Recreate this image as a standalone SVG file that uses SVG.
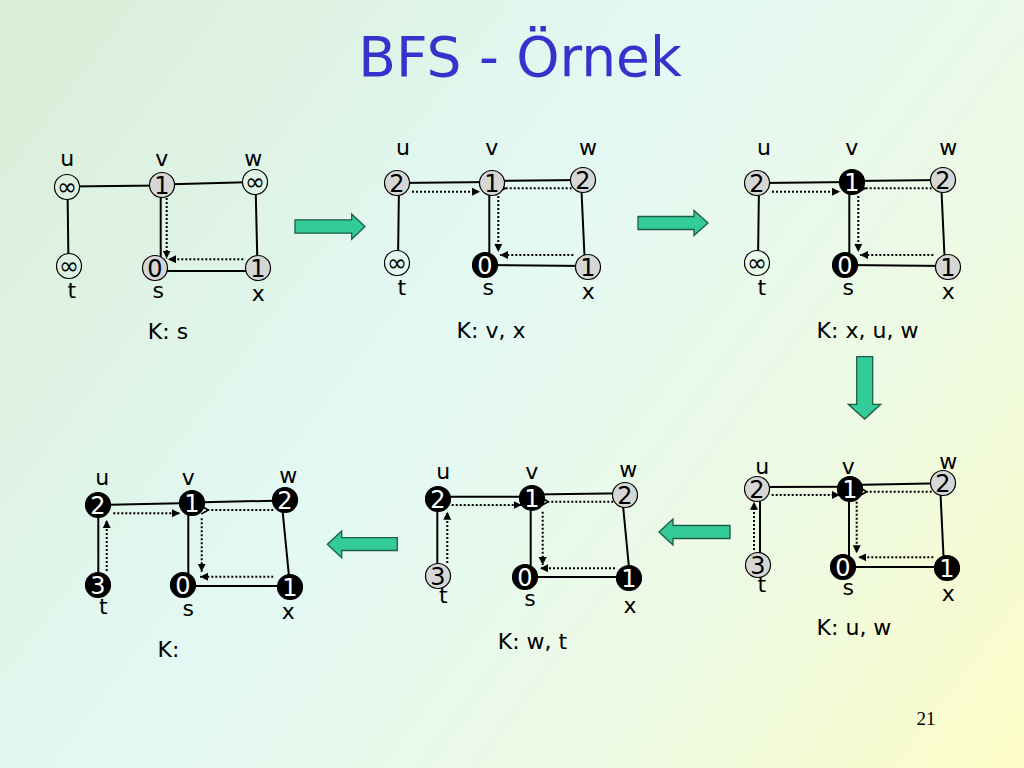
<svg xmlns="http://www.w3.org/2000/svg" width="1024" height="768" viewBox="0 0 1024 768">
<defs>
<linearGradient id="bg" gradientUnits="userSpaceOnUse" x1="0" y1="0" x2="1024" y2="768">
<stop offset="0" stop-color="#d9eed6"/>
<stop offset="0.45" stop-color="#e4f9f4"/>
<stop offset="0.75" stop-color="#eefae2"/>
<stop offset="1" stop-color="#fcfcc6"/>
</linearGradient>
<marker id="ah" markerUnits="userSpaceOnUse" markerWidth="9" markerHeight="9" refX="8" refY="4" orient="auto">
<path d="M0,0 L8,4 L0,8 Z" fill="#000"/>
</marker>
<marker id="ch" markerUnits="userSpaceOnUse" markerWidth="10" markerHeight="10" refX="1" refY="4.5" orient="auto">
<path d="M8,0.5 L1,4.5 L8,8.5" fill="none" stroke="#000" stroke-width="1.6"/>
</marker>
<style>
.n{stroke:#000;stroke-width:1.2}
.g{fill:#d6d6d6}
.b{fill:#000}
.e{fill:url(#bg)}
.num{font-family:"DejaVu Sans",sans-serif;font-size:24px;text-anchor:middle;fill:#000}
.nw{fill:#fff}
.lbl{font-family:"DejaVu Sans",sans-serif;font-size:22px;text-anchor:middle;fill:#000}
.k{font-family:"DejaVu Sans",sans-serif;font-size:22px;text-anchor:middle;fill:#000}
.ed{stroke:#000;stroke-width:2;fill:none}
.dt{stroke:#000;stroke-width:2;stroke-dasharray:2 2;fill:none}
.fa{marker-end:url(#ah)}
.ca{marker-end:url(#ch)}
.blk{fill:#33cc99;stroke:#1f5c45;stroke-width:1.3}
</style>
</defs>
<rect width="1024" height="768" fill="url(#bg)"/>
<text x="520" y="76" font-family="DejaVu Sans, sans-serif" font-size="55" fill="#3434cc" text-anchor="middle">BFS - Örnek</text>
<text x="926" y="725" font-family="Liberation Serif, serif" font-size="19" fill="#000" text-anchor="middle">21</text>

<g id="block-arrows">
<path class="blk" d="M295,219.8 H351.7 V214 L365,226.5 L351.7,239.3 V233.2 H295 Z"/>
<path class="blk" d="M638,216.5 H694 V210.5 L708,223 L694,235.5 V229.5 H638 Z"/>
<path class="blk" d="M856.7,356.7 H872.7 V404.3 H880.7 L864.7,419 L848.3,404.3 H856.7 Z"/>
<path class="blk" d="M397.3,537.7 H341.7 V531 L327.3,544.3 L341.7,557.7 V550.5 H397.3 Z"/>
<path class="blk" d="M730,525.5 H673 V519 L659,532 L673,545 V538.5 H730 Z"/>
</g>

<!-- Panel 1 -->
<g id="p1-edges">
<line class="ed" x1="67" y1="186.5" x2="162" y2="185.5"/>
<line class="ed" x1="162" y1="184.5" x2="255" y2="182"/>
<line class="ed" x1="67.5" y1="187" x2="68.5" y2="266"/>
<line class="ed" x1="160.7" y1="185" x2="160.7" y2="268"/>
<line class="ed" x1="255.5" y1="182" x2="257.5" y2="268"/>
<line class="ed" x1="155" y1="271" x2="258" y2="271"/>
<line class="dt fa" x1="166.7" y1="198" x2="166.7" y2="258.5"/>
<line class="dt fa" x1="243.3" y1="259.3" x2="168" y2="259.3"/>
</g>
<g id="p1-u"><circle class="n e" cx="67" cy="187" r="12.5"/><text class="num" x="67" y="195">∞</text><text class="lbl" x="67.3" y="166">u</text></g>
<g id="p1-v"><circle class="n g" cx="162" cy="185" r="12.5"/><text class="num" x="162" y="194">1</text><text class="lbl" x="161.7" y="166">v</text></g>
<g id="p1-w"><circle class="n e" cx="255" cy="182" r="12.5"/><text class="num" x="255" y="190">∞</text><text class="lbl" x="253.3" y="166">w</text></g>
<g id="p1-t"><circle class="n e" cx="69" cy="266" r="12.5"/><text class="num" x="69" y="274">∞</text><text class="lbl" x="71.7" y="298">t</text></g>
<g id="p1-s"><circle class="n g" cx="155" cy="268" r="12.5"/><text class="num" x="155" y="277">0</text><text class="lbl" x="158.3" y="298">s</text></g>
<g id="p1-x"><circle class="n g" cx="258" cy="268" r="12.5"/><text class="num" x="258" y="277">1</text><text class="lbl" x="258.3" y="301">x</text></g>
<text class="k" x="168" y="339">K: s</text>

<!-- Panel 2 -->
<g id="p2-edges">
<line class="ed" x1="397" y1="183" x2="492" y2="182"/>
<line class="ed" x1="492" y1="181" x2="583" y2="180"/>
<line class="ed" x1="399" y1="183" x2="398" y2="263"/>
<line class="ed" x1="489.3" y1="183" x2="489.3" y2="265"/>
<line class="ed" x1="581" y1="180" x2="585" y2="267"/>
<line class="ed" x1="485" y1="265" x2="588" y2="266"/>
<line class="dt fa" x1="412" y1="191.7" x2="480" y2="191.7"/>
<line class="dt ca" x1="571.7" y1="188.3" x2="505" y2="188.3"/>
<line class="dt fa" x1="498.3" y1="196" x2="498.3" y2="252"/>
<line class="dt fa" x1="573.3" y1="255" x2="500" y2="255"/>
</g>
<g id="p2-u"><circle class="n g" cx="397" cy="183" r="12.5"/><text class="num" x="397" y="192">2</text><text class="lbl" x="403" y="155">u</text></g>
<g id="p2-v"><circle class="n g" cx="492" cy="183" r="12.5"/><text class="num" x="492" y="192">1</text><text class="lbl" x="491.7" y="155">v</text></g>
<g id="p2-w"><circle class="n g" cx="583" cy="180" r="12.5"/><text class="num" x="583" y="189">2</text><text class="lbl" x="588" y="155">w</text></g>
<g id="p2-t"><circle class="n e" cx="397" cy="263" r="12.5"/><text class="num" x="397" y="271">∞</text><text class="lbl" x="401.7" y="295">t</text></g>
<g id="p2-s"><circle class="n b" cx="485" cy="265" r="12.5"/><text class="num nw" x="485" y="274">0</text><text class="lbl" x="488.3" y="295">s</text></g>
<g id="p2-x"><circle class="n g" cx="588" cy="267" r="12.5"/><text class="num" x="588" y="276">1</text><text class="lbl" x="588.3" y="299">x</text></g>
<text class="k" x="491" y="338">K: v, x</text>

<!-- Panel 3 -->
<g id="p3-edges">
<line class="ed" x1="757" y1="183" x2="852" y2="182"/>
<line class="ed" x1="852" y1="181" x2="943" y2="180"/>
<line class="ed" x1="759" y1="183" x2="758" y2="263"/>
<line class="ed" x1="849.3" y1="182" x2="849.3" y2="265"/>
<line class="ed" x1="941" y1="180" x2="945" y2="267"/>
<line class="ed" x1="845" y1="265" x2="948" y2="266"/>
<line class="dt fa" x1="772" y1="191.7" x2="840" y2="191.7"/>
<line class="dt ca" x1="931.7" y1="188.3" x2="865" y2="188.3"/>
<line class="dt fa" x1="858.3" y1="196" x2="858.3" y2="252"/>
<line class="dt fa" x1="933.3" y1="255" x2="860" y2="255"/>
</g>
<g id="p3-u"><circle class="n g" cx="757" cy="183" r="12.5"/><text class="num" x="757" y="192">2</text><text class="lbl" x="764" y="155">u</text></g>
<g id="p3-v"><circle class="n b" cx="852" cy="182" r="12.5"/><text class="num nw" x="852" y="191">1</text><text class="lbl" x="851.7" y="155">v</text></g>
<g id="p3-w"><circle class="n g" cx="943" cy="180" r="12.5"/><text class="num" x="943" y="189">2</text><text class="lbl" x="948.3" y="155">w</text></g>
<g id="p3-t"><circle class="n e" cx="757" cy="263" r="12.5"/><text class="num" x="757" y="271">∞</text><text class="lbl" x="761.7" y="295">t</text></g>
<g id="p3-s"><circle class="n b" cx="845" cy="265" r="12.5"/><text class="num nw" x="845" y="274">0</text><text class="lbl" x="848.3" y="295">s</text></g>
<g id="p3-x"><circle class="n g" cx="948" cy="267" r="12.5"/><text class="num" x="948" y="276">1</text><text class="lbl" x="948.3" y="299">x</text></g>
<text class="k" x="867.5" y="338">K: x, u, w</text>

<!-- Panel 4 -->
<g id="p4-edges">
<line class="ed" x1="757" y1="487" x2="850" y2="486.7"/>
<line class="ed" x1="850" y1="485" x2="943" y2="483.3"/>
<line class="ed" x1="760" y1="489" x2="760" y2="565"/>
<line class="ed" x1="849" y1="489" x2="849" y2="567"/>
<line class="ed" x1="940" y1="483" x2="944" y2="567"/>
<line class="ed" x1="843" y1="567" x2="947" y2="567"/>
<line class="dt fa" x1="771.7" y1="495" x2="840" y2="495"/>
<line class="dt ca" x1="931.7" y1="491.7" x2="866.7" y2="491.7"/>
<line class="dt fa" x1="856.7" y1="501.7" x2="856.7" y2="553.3"/>
<line class="dt fa" x1="933.3" y1="557.3" x2="858.3" y2="557.3"/>
<line class="dt fa" x1="754" y1="550" x2="754" y2="501.7"/>
</g>
<g id="p4-u"><circle class="n g" cx="757" cy="489" r="12.5"/><text class="num" x="757" y="498">2</text><text class="lbl" x="762.3" y="474">u</text></g>
<g id="p4-v"><circle class="n b" cx="850" cy="489" r="12.5"/><text class="num nw" x="850" y="498">1</text><text class="lbl" x="848.3" y="474">v</text></g>
<g id="p4-w"><circle class="n g" cx="943" cy="483" r="12.5"/><text class="num" x="943" y="492">2</text><text class="lbl" x="948.3" y="469">w</text></g>
<g id="p4-t"><circle class="n g" cx="758" cy="565" r="12.5"/><text class="num" x="758" y="574">3</text><text class="lbl" x="761.7" y="592">t</text></g>
<g id="p4-s"><circle class="n b" cx="843" cy="567" r="12.5"/><text class="num nw" x="843" y="576">0</text><text class="lbl" x="848.3" y="595">s</text></g>
<g id="p4-x"><circle class="n b" cx="947" cy="568" r="12.5"/><text class="num nw" x="947" y="577">1</text><text class="lbl" x="948.3" y="601">x</text></g>
<text class="k" x="854" y="635">K: u, w</text>

<!-- Panel 5 -->
<g id="p5-edges">
<line class="ed" x1="438" y1="496.7" x2="532" y2="496.7"/>
<line class="ed" x1="532" y1="494.5" x2="625" y2="493.3"/>
<line class="ed" x1="437.3" y1="499" x2="437.3" y2="576"/>
<line class="ed" x1="530.7" y1="498" x2="530.7" y2="577"/>
<line class="ed" x1="622" y1="495" x2="630" y2="578"/>
<line class="ed" x1="525" y1="577" x2="629" y2="577"/>
<line class="dt fa" x1="451.7" y1="505" x2="521.7" y2="505"/>
<line class="dt ca" x1="613.3" y1="501.7" x2="548.3" y2="501.7"/>
<line class="dt fa" x1="542.7" y1="511.7" x2="542.7" y2="565"/>
<line class="dt fa" x1="615" y1="568.3" x2="540" y2="568.3"/>
<line class="dt fa" x1="447.3" y1="563" x2="447.3" y2="511.7"/>
</g>
<g id="p5-u"><circle class="n b" cx="438" cy="499" r="12.5"/><text class="num nw" x="438" y="508">2</text><text class="lbl" x="443.3" y="479">u</text></g>
<g id="p5-v"><circle class="n b" cx="532" cy="498" r="12.5"/><text class="num nw" x="532" y="507">1</text><text class="lbl" x="531.7" y="479">v</text></g>
<g id="p5-w"><circle class="n g" cx="625" cy="495" r="12.5"/><text class="num" x="625" y="504">2</text><text class="lbl" x="628.3" y="477">w</text></g>
<g id="p5-t"><circle class="n g" cx="438" cy="576" r="12.5"/><text class="num" x="438" y="585">3</text><text class="lbl" x="443.3" y="603">t</text></g>
<g id="p5-s"><circle class="n b" cx="525" cy="577" r="12.5"/><text class="num nw" x="525" y="586">0</text><text class="lbl" x="530" y="606">s</text></g>
<g id="p5-x"><circle class="n b" cx="629" cy="578" r="12.5"/><text class="num nw" x="629" y="587">1</text><text class="lbl" x="630" y="613">x</text></g>
<text class="k" x="532.5" y="649">K: w, t</text>

<!-- Panel 6 -->
<g id="p6-edges">
<line class="ed" x1="98" y1="505" x2="192" y2="503"/>
<line class="ed" x1="192" y1="502.5" x2="285" y2="500.5"/>
<line class="ed" x1="98.3" y1="505" x2="98.3" y2="585"/>
<line class="ed" x1="188.3" y1="503" x2="188.3" y2="585"/>
<line class="ed" x1="281.7" y1="501.7" x2="290" y2="586.7"/>
<line class="ed" x1="183" y1="586" x2="290" y2="586"/>
<line class="dt fa" x1="113.3" y1="513.3" x2="180" y2="513.3"/>
<line class="dt ca" x1="273.3" y1="510" x2="208.3" y2="510"/>
<line class="dt fa" x1="201.7" y1="518.3" x2="201.7" y2="571.7"/>
<line class="dt fa" x1="273.3" y1="576.7" x2="200" y2="576.7"/>
<line class="dt fa" x1="106.7" y1="571" x2="106.7" y2="520"/>
</g>
<g id="p6-u"><circle class="n b" cx="98" cy="505" r="12.5"/><text class="num nw" x="98" y="514">2</text><text class="lbl" x="102.3" y="485">u</text></g>
<g id="p6-v"><circle class="n b" cx="192" cy="503" r="12.5"/><text class="num nw" x="192" y="512">1</text><text class="lbl" x="188.3" y="485">v</text></g>
<g id="p6-w"><circle class="n b" cx="285" cy="500" r="12.5"/><text class="num nw" x="285" y="509">2</text><text class="lbl" x="288.3" y="483">w</text></g>
<g id="p6-t"><circle class="n b" cx="98" cy="585" r="12.5"/><text class="num nw" x="98" y="594">3</text><text class="lbl" x="103.3" y="614">t</text></g>
<g id="p6-s"><circle class="n b" cx="183" cy="585" r="12.5"/><text class="num nw" x="183" y="594">0</text><text class="lbl" x="188.3" y="616">s</text></g>
<g id="p6-x"><circle class="n b" cx="290" cy="587" r="12.5"/><text class="num nw" x="290" y="596">1</text><text class="lbl" x="288.3" y="619">x</text></g>
<text class="k" x="168.5" y="657">K:</text>
</svg>
